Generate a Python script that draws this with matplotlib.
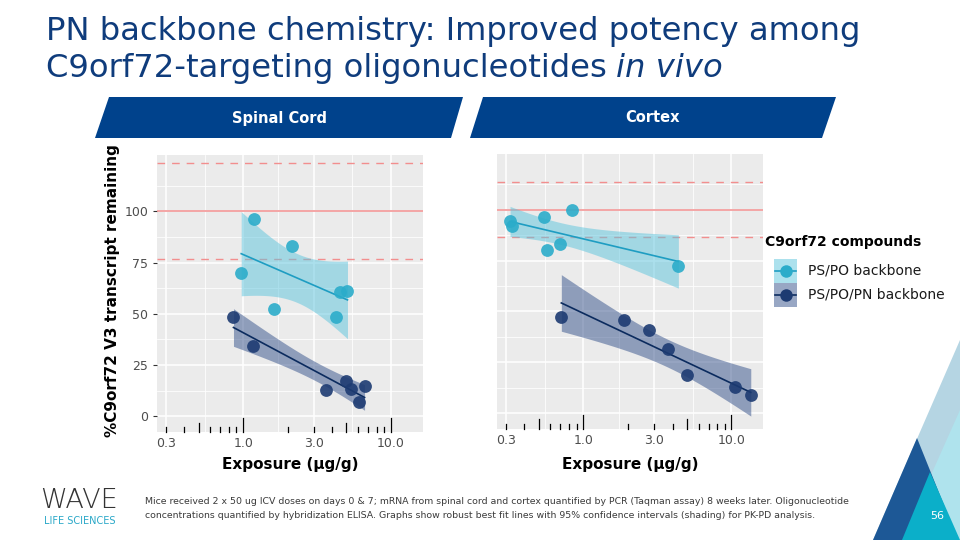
import numpy as np
import matplotlib
matplotlib.use("Agg")
import matplotlib.pyplot as plt
from matplotlib.patches import Polygon, Rectangle
from matplotlib.lines import Line2D
from matplotlib.ticker import NullFormatter


# data (exposure ug/g, % transcript remaining)
sc_pspo_x = [0.97, 1.19, 1.61, 2.15, 4.22, 4.51, 5.08]
sc_pspo_y = [69.7, 96.1, 52.2, 83.0, 48.4, 60.4, 61.3]
sc_pn_x = [0.86, 1.16, 3.66, 4.93, 5.33, 6.06, 6.63]
sc_pn_y = [48.4, 34.1, 12.6, 17.1, 13.2, 6.9, 14.9]

cx_pspo_x = [0.32, 0.33, 0.54, 0.57, 0.70, 0.84, 4.38]
cx_pspo_y = [94.6, 92.0, 96.6, 80.2, 83.0, 99.9, 72.4]
cx_pn_x = [0.71, 1.89, 2.79, 3.72, 5.01, 10.5, 13.5]
cx_pn_y = [47.5, 45.8, 40.8, 31.6, 18.7, 12.9, 8.7]

# control mean and spread lines (lower dashed, solid, upper dashed)
sc_ref = [76.5, 100, 123.5]
cx_ref = [86.8, 100, 113.8]

# robust se relative to plain OLS se, per series (PS/PO, PS/PO/PN)
sc_ci_scale = [0.78, 0.89]
cx_ci_scale = [0.67, 1.17]

x_breaks = [0.3, 1.0, 3.0, 10.0]
x_labels = ["0.3", "1.0", "3.0", "10.0"]
y_breaks = [0, 25, 50, 75, 100]
series_names = ["PS/PO backbone", "PS/PO/PN backbone"]
panel_names = ["Spinal Cord", "Cortex"]

T95 = 2.5706  # t(0.975, df=5)

# colours
cyan_pt = "#2BACCA"
cyan_line = "#1E9DC2"
cyan_fill = "#5BC4DD"
navy_pt = "#1D3B72"
navy_line = "#0B2B5E"
navy_fill = "#33508A"
red_ref = "#F28E8E"
title_col = "#0F3C7C"
banner_col = "#00428C"

W, H = 960, 540


def fx(px):
    return px / W


def fy(py):
    return 1 - py / H


def fit_band(x, y, scale):
    lx = np.log10(x)
    ya = np.asarray(y, float)
    n = len(lx)
    b, a = np.polyfit(lx, ya, 1)
    res = ya - (a + b * lx)
    s = np.sqrt(np.sum(res ** 2) / (n - 2))
    sxx = np.sum((lx - lx.mean()) ** 2)
    gx = np.linspace(lx.min(), lx.max(), 120)
    fit = a + b * gx
    half = T95 * s * np.sqrt(1 / n + (gx - lx.mean()) ** 2 / sxx) * scale
    return 10 ** gx, fit, fit - half, fit + half


def draw_panel(ax, sets, ref, scales, show_y):
    ax.set_facecolor("#EBEBEB")
    ax.set_xscale("log")
    ax.set_xlim(0.26, 16.4)
    ax.set_ylim(-7.6, 127.5)
    for s in ax.spines.values():
        s.set_visible(False)

    # grid: majors at breaks, minors halfway (log space for x)
    ax.set_xticks(x_breaks)
    ax.set_xticklabels(x_labels)
    xb = np.log10(x_breaks)
    ax.set_xticks(10 ** ((xb[:-1] + xb[1:]) / 2), minor=True)
    ax.xaxis.set_minor_formatter(NullFormatter())
    ax.set_yticks(y_breaks)
    ax.set_yticks([v + 12.5 for v in y_breaks], minor=True)
    ax.grid(which="major", color="white", lw=1.1)
    ax.grid(which="minor", color="white", lw=0.55)
    ax.set_axisbelow(True)
    ax.tick_params(axis="x", which="both", length=0, pad=4, labelsize=9, labelcolor="#4D4D4D")
    ax.tick_params(axis="y", which="minor", length=0)
    if show_y:
        ax.tick_params(axis="y", which="major", length=3, width=0.8, color="#333333",
                       pad=3, labelsize=9, labelcolor="#4D4D4D")
    else:
        ax.tick_params(axis="y", which="major", length=0, labelleft=False)

    # reference lines
    ax.axhline(ref[1], color=red_ref, lw=1.1, zorder=1.5)
    for r in (ref[0], ref[2]):
        ax.axhline(r, color=red_ref, lw=1.0, ls=(0, (5.5, 5)), zorder=1.5)

    # log ticks along bottom (annotation_logticks style)
    tr = ax.get_xaxis_transform()
    for dec in [0.1, 1, 10]:
        for k in range(1, 10):
            v = k * dec
            if v < 0.27 or v > 16:
                continue
            ln = 0.05 if k == 1 else (0.033 if k == 5 else 0.017)
            ax.plot([v, v], [0, ln], transform=tr, color="black", lw=0.9, zorder=3, clip_on=False)

    cols = [(cyan_pt, cyan_line, cyan_fill), (navy_pt, navy_line, navy_fill)]
    for (x, y), (pc, lc, fc), sc in zip(sets, cols, scales):
        gx, fit, lo, hi = fit_band(x, y, sc)
        ax.fill_between(gx, lo, hi, color=fc, alpha=0.5, lw=0, zorder=2)
        ax.plot(gx, fit, color=lc, lw=1.2, zorder=3)
        ax.scatter(x, y, s=85, color=pc, alpha=0.9, lw=0, zorder=4)


fig = plt.figure(figsize=(9.6, 5.4), dpi=100)

ax1 = fig.add_axes([fx(156.7), fy(431.7), fx(422.7) - fx(156.7), fy(155) - fy(431.7)])
ax2 = fig.add_axes([fx(496.7), fy(428.5), fx(763.3) - fx(496.7), fy(154) - fy(428.5)])

draw_panel(ax1, [(sc_pspo_x, sc_pspo_y), (sc_pn_x, sc_pn_y)], sc_ref, sc_ci_scale, True)
draw_panel(ax2, [(cx_pspo_x, cx_pspo_y), (cx_pn_x, cx_pn_y)], cx_ref, cx_ci_scale, False)

# title
fig.text(fx(46), fy(40), "PN backbone chemistry: Improved potency among",
         fontsize=23.2, color=title_col, va="baseline", ha="left")
t2 = fig.text(fx(46), fy(77), "C9orf72-targeting oligonucleotides",
              fontsize=23.2, color=title_col, va="baseline", ha="left")
fig.canvas.draw()
bb = t2.get_window_extent()
fig.text(bb.x1 / W + fx(9), fy(77), "in vivo", fontsize=23.2, color=title_col,
         style="italic", va="baseline", ha="left")

# panel banners
banners = [[(95, 138), (109, 97), (463, 97), (451, 138)],
           [(470, 138), (483, 97), (836, 97), (822, 138)]]
for pts, name in zip(banners, panel_names):
    fig.add_artist(Polygon([(fx(a), fy(b)) for a, b in pts], closed=True,
                           transform=fig.transFigure, color=banner_col, lw=0))
    cx = sum(p[0] for p in pts) / 4
    fig.text(fx(cx), fy(118), name, color="white", fontsize=10.5, fontweight="bold",
             ha="center", va="center")

# axis titles
fig.text(fx(113), fy(291), "%C9orf72 V3 transcript remaining", rotation=90,
         fontsize=11, fontweight="bold", ha="center", va="center")
fig.text(fx(290), fy(465), "Exposure (μg/g)", fontsize=11, fontweight="bold", ha="center", va="center")
fig.text(fx(630), fy(465), "Exposure (μg/g)", fontsize=11, fontweight="bold", ha="center", va="center")

# legend, drawn by hand so keys sit like ggplot's
fig.text(fx(765), fy(242), "C9orf72 compounds", fontsize=10, fontweight="bold",
         ha="left", va="center")
key_cols = [(cyan_fill, cyan_line, cyan_pt), (navy_fill, navy_line, navy_pt)]
for i, (name, (fc, lc, pc)) in enumerate(zip(series_names, key_cols)):
    top = 259 + i * 24
    fig.add_artist(Rectangle((fx(774), fy(top + 24)), fx(797) - fx(774), fy(top) - fy(top + 24),
                             transform=fig.transFigure, color=fc, alpha=0.5, lw=0))
    fig.add_artist(Line2D([fx(775), fx(796)], [fy(top + 12)] * 2, transform=fig.transFigure,
                          color=lc, lw=1.2))
    fig.add_artist(Line2D([fx(785.5)], [fy(top + 12)], transform=fig.transFigure,
                          marker="o", ms=9, mfc=pc, mec="none", ls="none"))
    fig.text(fx(808), fy(top + 12), name, fontsize=10, ha="left", va="center", color="#1A1A1A")

# decorative triangles, bottom right
tris = [([(960, 340), (873, 540), (960, 540)], "#B5D5E3"),
        ([(960, 410), (902, 540), (960, 540)], "#AFE3ED"),
        ([(917, 438), (873, 540), (958, 540)], "#1D5896"),
        ([(930, 472), (902, 540), (960, 540)], "#0BAFC9")]
for pts, c in tris:
    fig.add_artist(Polygon([(fx(a), fy(b)) for a, b in pts], closed=True,
                           transform=fig.transFigure, color=c, lw=0))
fig.text(fx(937), fy(516), "56", color="white", fontsize=8, ha="center", va="center")

# logo
fig.text(fx(79), fy(500), "WAVE", fontsize=19.5, fontweight="ultralight", color="#333333",
         ha="center", va="center")
fig.text(fx(80), fy(521), "LIFE SCIENCES", fontsize=7, color="#2AA8C8", ha="center", va="center")

# footnote
fig.text(fx(145), fy(502), "Mice received 2 x 50 ug ICV doses on days 0 & 7; mRNA from spinal cord and cortex "
         "quantified by PCR (Taqman assay) 8 weeks later. Oligonucleotide",
         fontsize=6.75, color="#3A3A3A", ha="left", va="center")
fig.text(fx(145), fy(516), "concentrations quantified by hybridization ELISA. Graphs show robust best fit lines "
         "with 95% confidence intervals (shading) for PK-PD analysis.",
         fontsize=6.75, color="#3A3A3A", ha="left", va="center")

fig.savefig("out.png", dpi=100)
